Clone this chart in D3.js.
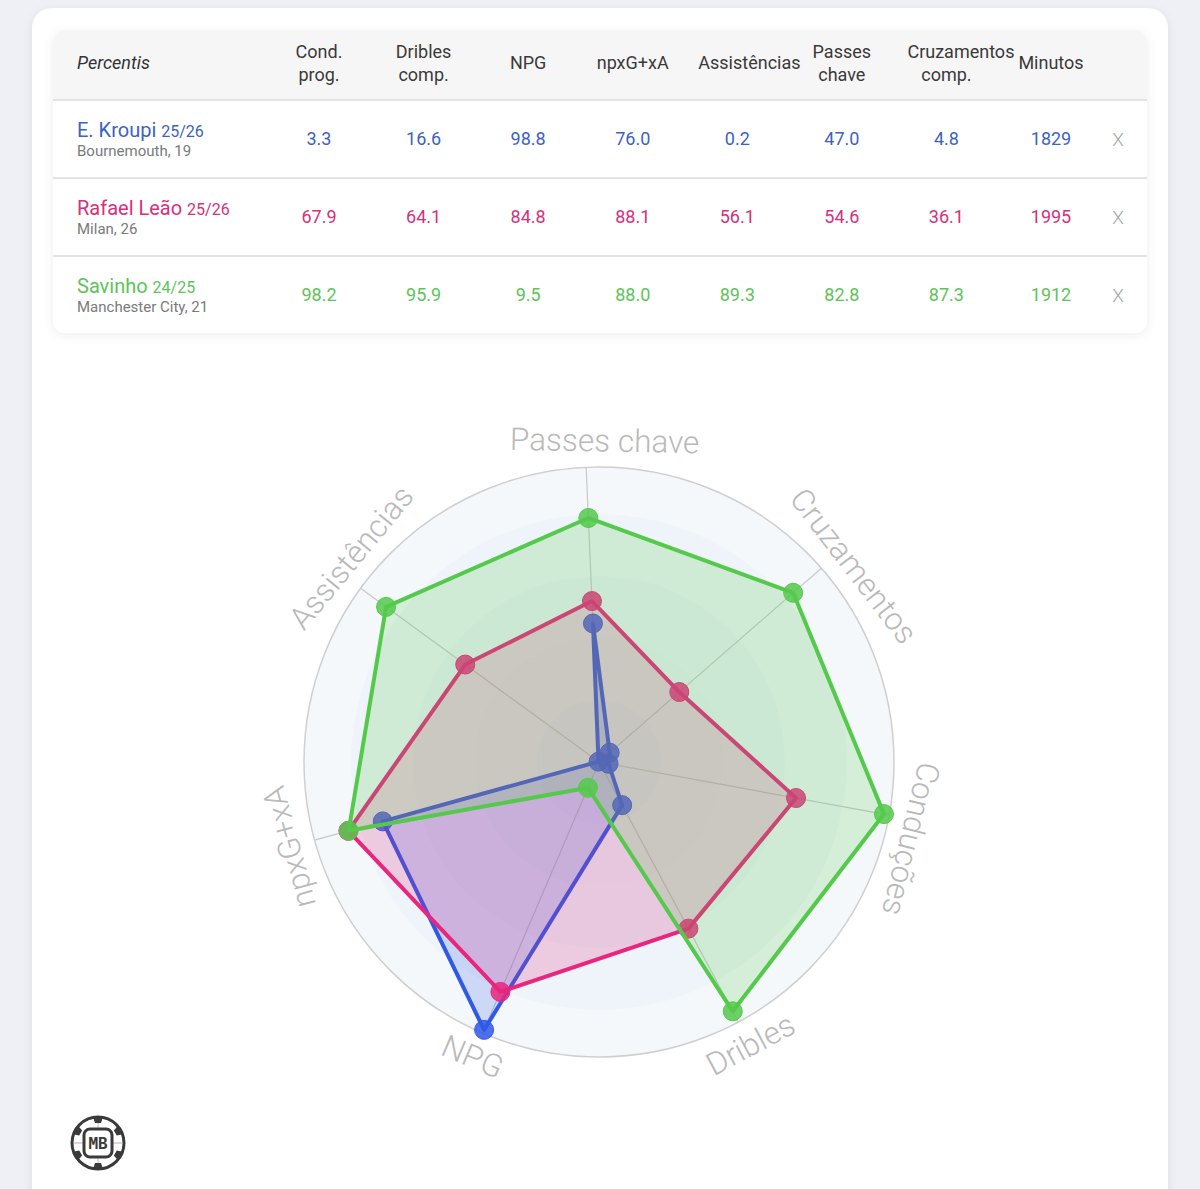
<!DOCTYPE html>
<html>
<head>
<meta charset="utf-8">
<script src="https://cdn.jsdelivr.net/npm/d3@7"></script>
<style>
  html, body { margin: 0; padding: 0; background: #eef0f5; }
  svg { display: block; font-family: Roboto, "Noto Sans", sans-serif; }
</style>
</head>
<body>
<div id="chart"></div>
<script>
// ---- data ----
const players = ["E. Kroupi", "Rafael Leão", "Savinho"];
const seasons = ["25/26", "25/26", "24/25"];
const clubs = ["Bournemouth, 19", "Milan, 26", "Manchester City, 21"];
const headerLabels = [["Cond.", "prog."], ["Dribles", "comp."], ["NPG"], ["npxG+xA"], ["Assistências"], ["Passes", "chave"], ["Cruzamentos", "comp."], ["Minutos"]];
const radarLabels = ["Conduções", "Dribles", "NPG", "npxG+xA", "Assistências", "Passes chave", "Cruzamentos"];
const kroupi = [3.3, 16.6, 98.8, 76.0, 0.2, 47.0, 4.8];
const leao = [67.9, 64.1, 84.8, 88.1, 56.1, 54.6, 36.1];
const savinho = [98.2, 95.9, 9.5, 88.0, 89.3, 82.8, 87.3];
const minutes = [1829, 1995, 1912];

const textColors = ["#3d62c2", "#d4317c", "#5ec35a"];
const lineColors = ["#2f59e6", "#e8267e", "#55c94c"];

const W = 1200, H = 1189;
const svg = d3.select("#chart").append("svg").attr("width", W).attr("height", H);

const defs = svg.append("defs");
const sh = defs.append("filter").attr("id", "shadow").attr("x", "-10%").attr("y", "-10%").attr("width", "120%").attr("height", "130%");
sh.append("feDropShadow").attr("dx", 0).attr("dy", 2).attr("stdDeviation", 5).attr("flood-color", "#000").attr("flood-opacity", 0.07);

// outer card
svg.append("rect").attr("x", 32).attr("y", 8).attr("width", 1136).attr("height", 1220)
  .attr("rx", 20).attr("fill", "#fff").attr("filter", "url(#shadow)");

// ---- table ----
const tbl = {x: 53, y: 30, w: 1094, head: 70, row: 78};
const tg = svg.append("g");
tg.append("rect").attr("x", tbl.x).attr("y", tbl.y).attr("width", tbl.w).attr("height", tbl.head + tbl.row * 3 - 1)
  .attr("rx", 12).attr("fill", "#fff").attr("filter", "url(#shadow)");
defs.append("clipPath").attr("id", "tclip").append("rect")
  .attr("x", tbl.x).attr("y", tbl.y).attr("width", tbl.w).attr("height", tbl.head + tbl.row * 3 - 1).attr("rx", 12);
tg.append("rect").attr("clip-path", "url(#tclip)")
  .attr("x", tbl.x).attr("y", tbl.y).attr("width", tbl.w).attr("height", tbl.head).attr("fill", "#f6f6f6");

const col = d3.scalePoint().domain(d3.range(headerLabels.length)).range([319, 1051]);
const rowY = d3.scaleLinear().domain([0, 1]).range([tbl.y + tbl.head + tbl.row / 2, tbl.y + tbl.head + tbl.row * 1.5]);

// separators
tg.selectAll("line.sep").data(d3.range(3)).join("line")
  .attr("x1", tbl.x).attr("x2", tbl.x + tbl.w)
  .attr("y1", i => tbl.y + tbl.head + i * tbl.row).attr("y2", i => tbl.y + tbl.head + i * tbl.row)
  .attr("stroke", "#e3e3e3").attr("stroke-width", 2);

tg.append("text").attr("x", 77).attr("y", 69).text("Percentis")
  .attr("font-size", 18).attr("font-style", "italic").attr("fill", "#333");

const cellHalf = 39;  // half the content width of a header cell
headerLabels.forEach((lines, i) => {
  const t = tg.append("text").attr("font-size", 18).attr("fill", "#3a3a3a");
  const x0 = col(i);
  lines.forEach((l, j) => {
    const y0 = lines.length === 1 ? 69 : 58 + j * 23;
    const ts = t.append("tspan").attr("y", y0).text(l);
    // text wider than the cell overflows to the right, like the html cell
    const w = ts.node().getComputedTextLength();
    if (w > cellHalf * 2) ts.attr("x", x0 - cellHalf).attr("text-anchor", "start");
    else ts.attr("x", x0).attr("text-anchor", "middle");
  });
});

const allValues = [kroupi, leao, savinho];
players.forEach((p, r) => {
  const cy = rowY(r);
  const name = tg.append("text").attr("x", 77).attr("y", cy - 2).attr("fill", textColors[r]);
  name.append("tspan").attr("font-size", 20).text(p + " ");
  name.append("tspan").attr("font-size", 16).text(seasons[r]);
  tg.append("text").attr("x", 77).attr("y", cy + 17).attr("font-size", 15).attr("fill", "#7a7a7a").text(clubs[r]);

  const vals = allValues[r].map(v => v.toFixed(1)).concat([String(minutes[r])]);
  tg.selectAll(null).data(vals).join("text")
    .attr("x", (d, i) => col(i)).attr("y", cy + 6)
    .attr("text-anchor", "middle").attr("font-size", 18).attr("fill", textColors[r])
    .text(d => d);
  tg.append("text").attr("x", 1118).attr("y", cy + 7).attr("text-anchor", "middle")
    .attr("font-size", 19).attr("font-weight", 300).attr("fill", "#a5a5a5").text("X");
});

// ---- radar ----
const cx = 599, cy = 762, R = 295;
const n = radarLabels.length;
const step = 2 * Math.PI / n;
const deg2rad = Math.PI / 180;
const dataStart = 2 * step - 2.5 * deg2rad;  // Conduções on the third spoke, whole web turned a little anticlockwise
const rScale = d3.scaleLinear().domain([0, 100]).range([0, R]);

const rg = svg.append("g").attr("transform", `translate(${cx},${cy})`);

// background rings
const rings = [1, 0.84, 0.63, 0.42, 0.21];
rg.selectAll("circle.ring").data(rings).join("circle")
  .attr("r", d => R * d)
  .attr("fill", "#dce8f3").attr("fill-opacity", (d, i) => i === 0 ? 0.3 : 0.22)
  .attr("stroke", (d, i) => i === 0 ? "#cfcfcf" : "none").attr("stroke-width", 1.5);

// spokes
rg.selectAll("line.spoke").data(d3.range(n)).join("line")
  .attr("x1", 0).attr("y1", 0)
  .attr("x2", i => R * Math.sin(dataStart + i * step))
  .attr("y2", i => -R * Math.cos(dataStart + i * step))
  .attr("stroke", "#c8c8c8").attr("stroke-width", 1.2);

// axis labels: the upper ones sit a little clockwise of their spoke, lower ones on it
rg.selectAll("text.lab").data(radarLabels).join("text")
  .attr("text-anchor", "middle").attr("dominant-baseline", "central")
  .attr("font-size", 31.5).attr("font-weight", 300).attr("fill", "#b9b9b9")
  .attr("transform", (d, i) => {
    let deg = ((dataStart + i * step) / deg2rad + 360) % 360;
    const flip = deg > 120 && deg < 240;
    if (deg < 120 || deg > 270) deg += 3.5;
    const a = deg * deg2rad;
    const x = 321 * Math.sin(a), y = -321 * Math.cos(a);
    return `translate(${x},${y}) rotate(${flip ? deg - 180 : deg})`;
  })
  .text(d => d);

// series, Kroupi at the bottom, Savinho on top
const radial = d3.lineRadial()
  .angle((d, i) => dataStart + i * step)
  .radius(d => rScale(d))
  .curve(d3.curveLinearClosed);

allValues.forEach((vals, s) => {
  const g = rg.append("g");
  g.append("path").attr("d", radial(vals))
    .attr("fill", lineColors[s]).attr("fill-opacity", 0.2)
    .attr("stroke", lineColors[s]).attr("stroke-width", 4).attr("stroke-linejoin", "round");
  g.selectAll("circle").data(vals).join("circle")
    .attr("cx", (d, i) => rScale(d) * Math.sin(dataStart + i * step))
    .attr("cy", (d, i) => -rScale(d) * Math.cos(dataStart + i * step))
    .attr("r", 9.5)
    .attr("fill", lineColors[s]).attr("fill-opacity", 0.85)
    .attr("stroke", lineColors[s]).attr("stroke-width", 1);
});

// ---- logo ----
const lg = svg.append("g").attr("transform", "translate(98,1143)");
lg.append("circle").attr("r", 26).attr("fill", "#fff").attr("stroke", "#3a3a3a").attr("stroke-width", 3);
lg.append("line").attr("x1", -24).attr("x2", 24).attr("stroke", "#d9a0b8").attr("stroke-width", 1);
lg.append("line").attr("y1", -24).attr("y2", 24).attr("stroke", "#bbb").attr("stroke-width", 1);
lg.selectAll("path.pent").data(d3.range(6)).join("path")
  .attr("d", "M-5,-26 L5,-26 L3,-20 L-3,-20 Z")
  .attr("transform", i => `rotate(${i * 60})`)
  .attr("fill", "#3a3a3a");
lg.append("rect").attr("x", -14).attr("y", -14).attr("width", 28).attr("height", 28).attr("rx", 6)
  .attr("fill", "#fff").attr("stroke", "#3a3a3a").attr("stroke-width", 3);
lg.append("text").attr("text-anchor", "middle").attr("y", 6).attr("font-size", 16).attr("font-weight", 700)
  .attr("fill", "#3a3a3a").attr("font-family", "'DejaVu Sans Mono', monospace").text("MB");
</script>
</body>
</html>
